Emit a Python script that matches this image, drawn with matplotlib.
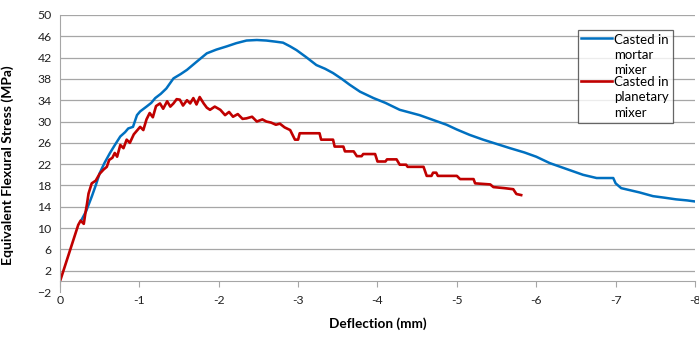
import matplotlib.pyplot as plt
from matplotlib.legend_handler import HandlerLine2D

plt.rcParams['font.family'] = ['Lato', 'DejaVu Sans']

# Casted in mortar mixer (blue)
mortar_x = [-0.27, -0.33, -0.40, -0.45, -0.50, -0.56, -0.63, -0.70, -0.76, -0.82, -0.86, -0.92,
            -0.97, -1.01, -1.09, -1.15, -1.20, -1.27, -1.34, -1.43, -1.52, -1.60, -1.72, -1.85,
            -1.97, -2.10, -2.22, -2.35, -2.48, -2.60, -2.71, -2.81, -2.90, -2.98, -3.10, -3.23,
            -3.34, -3.44, -3.55, -3.65, -3.78, -3.95, -4.10, -4.28, -4.53, -4.70, -4.87, -5.00,
            -5.16, -5.33, -5.50, -5.67, -5.85, -6.00, -6.17, -6.38, -6.59, -6.76, -6.97, -7.00,
            -7.07, -7.30, -7.47, -7.62, -7.76, -7.90, -8.00]
mortar_y = [11.5, 13.2, 15.9, 18.0, 20.3, 22.2, 24.1, 25.8, 27.2, 28.0, 28.7, 29.0,
            31.2, 31.9, 32.8, 33.5, 34.4, 35.2, 36.2, 38.1, 38.9, 39.7, 41.2, 42.8,
            43.5, 44.1, 44.7, 45.2, 45.3, 45.2, 45.0, 44.8, 44.1, 43.4, 42.1, 40.6,
            39.9, 39.1, 38.0, 36.9, 35.6, 34.4, 33.5, 32.2, 31.2, 30.3, 29.4, 28.5,
            27.5, 26.6, 25.8, 25.0, 24.2, 23.4, 22.2, 21.1, 20.0, 19.4, 19.4, 18.4,
            17.5, 16.7, 16.0, 15.7, 15.4, 15.2, 15.0]

# Casted in planetary mixer (red)
planetary_x = [0.0, -0.23, -0.26, -0.30, -0.32, -0.34, -0.36, -0.40, -0.45, -0.50, -0.55, -0.59,
               -0.62, -0.66, -0.69, -0.72, -0.76, -0.80, -0.84, -0.88, -0.93, -0.97, -1.01, -1.05,
               -1.09, -1.13, -1.17, -1.21, -1.26, -1.30, -1.35, -1.39, -1.43, -1.47, -1.51, -1.55,
               -1.60, -1.64, -1.68, -1.72, -1.76, -1.81, -1.85, -1.89, -1.95, -2.02, -2.08, -2.13,
               -2.18, -2.24, -2.30, -2.35, -2.42, -2.48, -2.55, -2.60, -2.66, -2.72, -2.77, -2.83,
               -2.90, -2.96, -3.00, -3.02, -3.27, -3.29, -3.44, -3.46, -3.57, -3.59, -3.70, -3.74,
               -3.80, -3.82, -3.97, -4.00, -4.10, -4.12, -4.24, -4.28, -4.36, -4.38, -4.58, -4.62,
               -4.68, -4.70, -4.74, -4.76, -5.00, -5.04, -5.21, -5.23, -5.42, -5.46, -5.60, -5.71,
               -5.75, -5.81]
planetary_y = [0.0, 10.6, 11.4, 10.8, 12.8, 14.5, 16.5, 18.4, 18.9, 20.2, 21.0, 21.5,
               22.8, 23.2, 24.1, 23.4, 25.6, 25.0, 26.6, 26.0, 27.6, 28.3, 29.0, 28.4,
               30.4, 31.6, 30.8, 32.9, 33.4, 32.4, 33.8, 32.8, 33.4, 34.2, 34.1, 33.0,
               34.0, 33.4, 34.4, 33.2, 34.6, 33.4, 32.6, 32.2, 32.8, 32.2, 31.2, 31.8,
               30.9, 31.4, 30.5, 30.6, 30.9, 30.0, 30.4, 30.0, 29.8, 29.4, 29.6, 28.9,
               28.4, 26.6, 26.6, 27.8, 27.8, 26.6, 26.6, 25.3, 25.3, 24.4, 24.4, 23.5,
               23.5, 23.9, 23.9, 22.5, 22.5, 22.9, 22.9, 21.9, 21.9, 21.5, 21.5, 19.8,
               19.8, 20.4, 20.4, 19.8, 19.8, 19.2, 19.2, 18.4, 18.2, 17.7, 17.5, 17.3,
               16.4, 16.2]

y_ticks = list(range(-2, 51, 4))
x_ticks = list(range(0, -9, -1))


# legend line next to the first line of a 3-line label, like Excel does
class TopLineHandler(HandlerLine2D):
    def create_artists(self, legend, orig_handle, xdescent, ydescent, width, height,
                       fontsize, trans):
        arts = super().create_artists(legend, orig_handle, xdescent, ydescent, width,
                                      height, fontsize, trans)
        for a in arts:
            a.set_ydata([y + 1.3 * fontsize for y in a.get_ydata()])
        return arts


fig = plt.figure(figsize=(6.99, 3.40), dpi=100)
ax = fig.add_axes([0.0858, 0.141, 0.9085, 0.815])

ax.plot(mortar_x, mortar_y, color='#0070C0', lw=1.8, label='Casted in\nmortar\nmixer')
ax.plot(planetary_x, planetary_y, color='#C00000', lw=1.9, label='Casted in\nplanetary\nmixer')

ax.set_xlim(0, -8)
ax.set_ylim(-2, 50)
ax.set_yticks(y_ticks)
ax.set_xticks(x_ticks)
ax.set_xticklabels([str(v) for v in x_ticks])

ax.yaxis.grid(True, color='#A6A6A6', lw=0.9)
ax.yaxis.get_gridlines()[0].set_visible(False)
ax.set_axisbelow(True)

for s in ['top', 'right']:
    ax.spines[s].set_visible(False)
ax.spines['left'].set_color('#A6A6A6')
ax.spines['bottom'].set_color('#A6A6A6')
ax.spines['bottom'].set_position(('data', 0))

ax.tick_params(axis='y', length=0, pad=6, labelsize=8.8, labelcolor='#222222')
ax.tick_params(axis='x', length=4, width=0.8, color='#A6A6A6', pad=6, labelsize=8.8,
               labelcolor='#222222')

ax.set_ylabel('Equivalent Flexural Stress (MPa)', fontsize=10, fontweight='bold')
ax.yaxis.set_label_coords(-0.073, 0.458)
fig.text(0.541, 0.03, 'Deflection (mm)', fontsize=9.8, fontweight='bold', ha='center', va='bottom')

h, l = ax.get_legend_handles_labels()
leg = ax.legend(h, l, loc='upper left', bbox_to_anchor=(0.815, 0.946), borderaxespad=0,
                fontsize=9.5, frameon=True, fancybox=False, handlelength=2.3,
                handletextpad=0.15, labelspacing=0.0, borderpad=0.3,
                handler_map={hh: TopLineHandler() for hh in h})
for t in leg.get_texts():
    t.set_linespacing(1.32)
leg.get_frame().set_edgecolor('#404040')
leg.get_frame().set_linewidth(0.9)

fig.savefig('out.png', dpi=100)
